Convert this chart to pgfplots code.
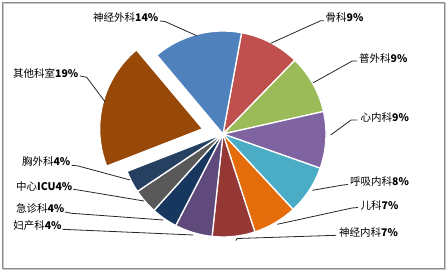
\documentclass[border=0pt]{standalone}
\usepackage{pgfplots}
\pgfplotsset{compat=1.18}
\usepackage{fontspec}
\setmainfont{Carlito}
\newfontfamily\cjk{Noto Sans CJK SC}
\definecolor{cBlue}{HTML}{4F81BD}
\definecolor{cRed}{HTML}{C0504D}
\definecolor{cGreen}{HTML}{9BBB59}
\definecolor{cPurple}{HTML}{8064A2}
\definecolor{cAqua}{HTML}{4BACC6}
\definecolor{cOrange}{HTML}{E46C0A}
\definecolor{cDRed}{HTML}{953735}
\definecolor{cDPurple}{HTML}{604A7B}
\definecolor{cNavy}{HTML}{17375E}
\definecolor{cGray}{HTML}{595959}
\definecolor{cSlate}{HTML}{254061}
\definecolor{cBrown}{HTML}{984807}
\gdef\cum{10.4}
\newcommand\slice[3]{%
  \pgfmathsetmacro\sa{90-\cum}%
  \pgfmathsetmacro\sb{90-\cum-3.6*#1}%
  \pgfmathsetmacro\sm{(\sa+\sb)/2}%
  \pgfmathsetmacro\ox{#3*cos(\sm)}%
  \pgfmathsetmacro\oy{#3*sin(\sm)}%
  \edef\doit{\noexpand\filldraw[fill=#2, draw=white, line width=1.3bp]
    ([shift={(\ox bp,\oy bp)}]axis cs:223,134) -- ++(\sa:103bp)
    arc[start angle=\sa, end angle=\sb, radius=103bp] -- cycle;}%
  \doit
  \pgfmathsetmacro\cumnew{\cum+3.6*#1}\global\let\cum\cumnew
}
\newcommand\lab[1]{\fontsize{10.5bp}{12bp}\selectfont\cjk #1}
\newcommand\num[1]{\fontsize{10.5bp}{12bp}\selectfont\bfseries #1}
\begin{document}
\begin{tikzpicture}
\begin{axis}[hide axis, scale only axis, width=448bp, height=272bp,
  xmin=0, xmax=448, ymin=0, ymax=272, y dir=reverse, clip=false]
\path (axis cs:0,0) rectangle (axis cs:448,272);
\draw[black!22, line width=1.2bp] (axis cs:3.6,3.6) rectangle (axis cs:445.6,269.6);
\draw[black!45, line width=1.2bp] (axis cs:2.6,2.6) rectangle (axis cs:444.3,268.3);
% slices: value (percent), colour, explode offset (bp)
\slice{9.4}{cRed}{0}
\slice{9.2}{cGreen}{0}
\slice{8.9}{cPurple}{0}
\slice{7.7}{cAqua}{0}
\slice{6.9}{cOrange}{0}
\slice{6.7}{cDRed}{0}
\slice{5.9}{cDPurple}{0}
\slice{4.1}{cNavy}{0}
\slice{3.9}{cGray}{0}
\slice{3.5}{cSlate}{0}
\slice{19.8}{cBrown}{21}
\slice{14.0}{cBlue}{0}
% leader lines
\begin{scope}[line width=0.8bp, black!85]
\draw (axis cs:160,21) -- (axis cs:165,21.5) -- (axis cs:196.7,35.7);
\draw (axis cs:324,20.7) -- (axis cs:320.7,20.7) -- (axis cs:270.7,43.3);
\draw (axis cs:357,61) -- (axis cs:352.3,61) -- (axis cs:313.3,82.7);
\draw (axis cs:357,120) -- (axis cs:351,120) -- (axis cs:330.7,135);
\draw (axis cs:348,184.5) -- (axis cs:343,185) -- (axis cs:312.3,190.3);
\draw (axis cs:358,207.5) -- (axis cs:352,208) -- (axis cs:277.3,224.3);
\draw (axis cs:336,235.3) -- (axis cs:237.3,238.5) -- (axis cs:235.7,240.5);
\draw (axis cs:71.7,165.3) -- (axis cs:78.3,166) -- (axis cs:130,180);
\draw (axis cs:73.3,189.3) -- (axis cs:78.3,190) -- (axis cs:144,201);
\draw (axis cs:65,212) -- (axis cs:71.7,213.3) -- (axis cs:163.3,220);
\draw (axis cs:62.3,229.3) -- (axis cs:193.3,235);
\draw (axis cs:80,76) -- (axis cs:86.7,77.3) -- (axis cs:105,101.7);
\end{scope}
% labels
\node[anchor=east, inner sep=0] at (axis cs:158.5,17) {\lab{神经外科}\num{14\%}};
\node[anchor=west, inner sep=0] at (axis cs:325.5,17.3) {\lab{骨科}\num{9\%}};
\node[anchor=west, inner sep=0] at (axis cs:359,58.3) {\lab{普外科}\num{9\%}};
\node[anchor=west, inner sep=0] at (axis cs:360.5,117.3) {\lab{心内科}\num{9\%}};
\node[anchor=west, inner sep=0] at (axis cs:350,182) {\lab{呼吸内科}\num{8\%}};
\node[anchor=west, inner sep=0] at (axis cs:360.5,206) {\lab{儿科}\num{7\%}};
\node[anchor=west, inner sep=0] at (axis cs:339,232.7) {\lab{神经内科}\num{7\%}};
\node[anchor=east, inner sep=0] at (axis cs:70.5,162) {\lab{胸外科}\num{4\%}};
\node[anchor=east, inner sep=0] at (axis cs:72.5,186.7) {\lab{中心}\num{ICU4\%}};
\node[anchor=east, inner sep=0] at (axis cs:64.5,208.7) {\lab{急诊科}\num{4\%}};
\node[anchor=east, inner sep=0] at (axis cs:61.7,226) {\lab{妇产科}\num{4\%}};
\node[anchor=east, inner sep=0] at (axis cs:78.5,73.3) {\lab{其他科室}\num{19\%}};
\end{axis}
\end{tikzpicture}
\end{document}
